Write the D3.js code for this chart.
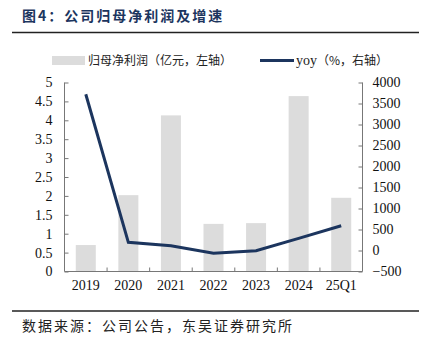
<!DOCTYPE html>
<html><head><meta charset="utf-8">
<script src="https://cdn.jsdelivr.net/npm/d3@7/dist/d3.min.js"></script>
<style>body{margin:0;background:#fff}svg{display:block}</style>
</head><body>
<script>
const categories = ["2019","2020","2021","2022","2023","2024","25Q1"];
const profit = [0.70, 2.02, 4.13, 1.26, 1.28, 4.64, 1.95];
const yoy = [3720, 195, 114, -67, -5, 290, 590];
const leftTicks = [0,0.5,1,1.5,2,2.5,3,3.5,4,4.5,5];
const rightTicks = [-500,0,500,1000,1500,2000,2500,3000,3500,4000];
const title = "图4：公司归母净利润及增速";
const source = "数据来源：公司公告，东吴证券研究所";
const legendBar = "归母净利润（亿元，左轴）";
const legendLine = "yoy（%，右轴）";

const W=431,H=342;
const svg=d3.select("body").append("svg").attr("width",W).attr("height",H);
const cjk="'Noto Sans CJK SC','Noto Sans',sans-serif";
const num="'Liberation Serif','Times New Roman',serif";
const navy="#1c355e";

svg.append("text").attr("x",22).attr("y",21).attr("font-family",cjk).attr("font-weight","bold")
  .attr("font-size",14).attr("letter-spacing",2).attr("fill",navy).text(title);
svg.append("line").attr("x1",12).attr("x2",419).attr("y1",32.5).attr("y2",32.5).attr("stroke","#222").attr("stroke-width",1.5);
svg.append("line").attr("x1",12).attr("x2",419).attr("y1",311).attr("y2",311).attr("stroke","#222").attr("stroke-width",1.5);
svg.append("text").attr("x",22).attr("y",331).attr("font-family",cjk).attr("font-size",14).attr("letter-spacing",2)
  .attr("fill","#222").text(source);

const L=64.5,R=362.5,T=82.5,B=271.5;
const x=d3.scaleBand().domain(categories).range([L,R]).paddingInner(0.53).paddingOuter(0.265);
const xb=d3.scaleBand().domain(categories).range([L,R]);
const yL=d3.scaleLinear().domain([0,5]).range([B,T]);
const yR=d3.scaleLinear().domain([-500,4000]).range([B,T]);

svg.append("g").selectAll("rect").data(categories).join("rect")
  .attr("x",d=>x(d)).attr("width",x.bandwidth())
  .attr("y",(d,i)=>yL(profit[i])).attr("height",(d,i)=>B-yL(profit[i]))
  .attr("fill","#dcdcdc");

const axL=svg.append("g").attr("transform",`translate(${L},0)`)
  .call(d3.axisLeft(yL).tickValues(leftTicks).tickSize(-4).tickPadding(12).tickFormat(d3.format("")));
const axR=svg.append("g").attr("transform",`translate(${R},0)`)
  .call(d3.axisRight(yR).tickValues(rightTicks).tickSize(-4).tickPadding(10).tickFormat(d3.format("")));
const axB=svg.append("g").attr("transform",`translate(0,${B})`)
  .call(d3.axisBottom(xb).tickSize(0).tickPadding(9));
axB.selectAll(".tick line").remove();
axB.append("g").selectAll("line").data(categories.slice(1)).join("line")
  .attr("x1",d=>xb(d)).attr("x2",d=>xb(d)).attr("y1",0).attr("y2",-4).attr("stroke","#777");
[axL,axR,axB].forEach(a=>{
  a.select(".domain").attr("stroke","#777");
  a.selectAll(".tick line").attr("stroke","#777");
  a.selectAll("text").attr("font-family",num).attr("font-size",14).attr("fill","#111");
});
axL.select(".domain").attr("d",`M0,${T}V${B}`);
axR.select(".domain").attr("d",`M0,${T}V${B}`);
axB.select(".domain").attr("d",`M${L},0H${R}`);

const line=d3.line().x((d,i)=>xb(categories[i])+xb.bandwidth()/2).y(d=>yR(d));
svg.append("path").datum(yoy).attr("d",line).attr("fill","none").attr("stroke",navy).attr("stroke-width",3);

// legend
svg.append("rect").attr("x",52).attr("y",56).attr("width",33).attr("height",9).attr("fill","#dcdcdc");
svg.append("text").attr("x",88).attr("y",65).attr("font-family",cjk).attr("font-size",12).attr("fill","#222").text(legendBar);
svg.append("line").attr("x1",260).attr("x2",294).attr("y1",60.5).attr("y2",60.5).attr("stroke",navy).attr("stroke-width",3);
const lt=svg.append("text").attr("x",296).attr("y",65).attr("font-size",12).attr("fill","#222");
lt.append("tspan").attr("font-family",num).attr("font-size",14).text("yoy");
lt.append("tspan").attr("font-family",cjk).text(legendLine.slice(3));
</script>
</body></html>
